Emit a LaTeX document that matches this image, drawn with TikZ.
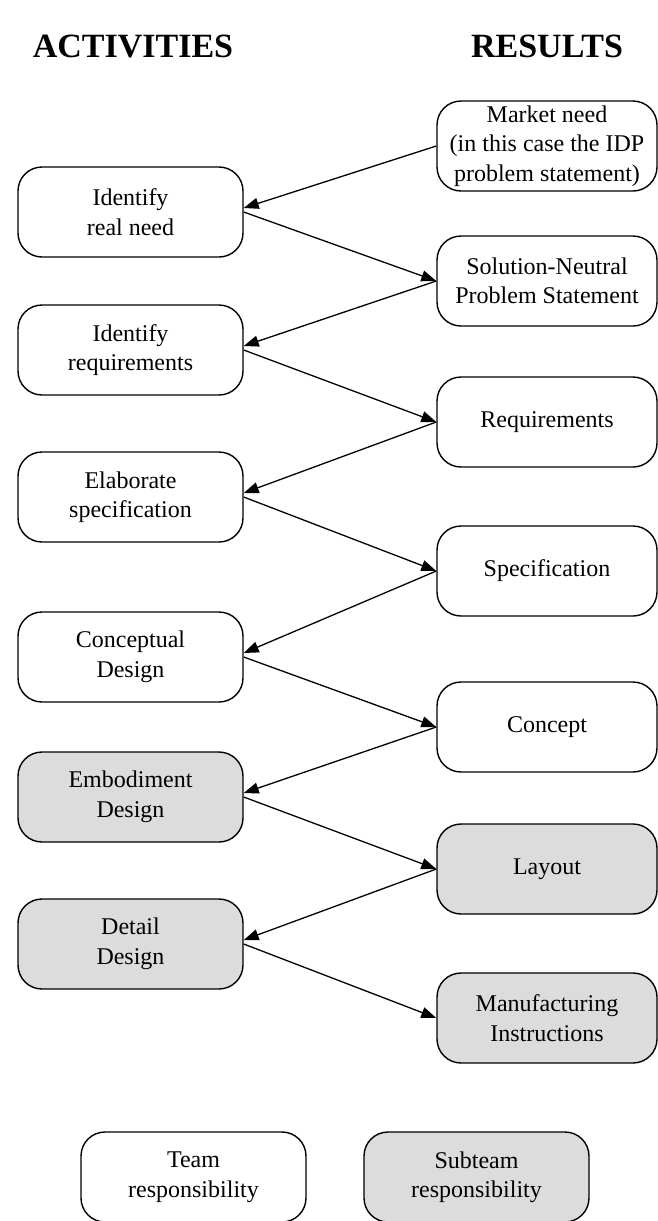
\documentclass[tikz,border=0pt]{standalone}
\usepackage{fontspec}
\setmainfont{Liberation Serif}
\usetikzlibrary{arrows.meta}

\definecolor{subgray}{RGB}{220,220,220}

\tikzset{
  box/.style={draw, line width=1.4pt, rounded corners=24pt, minimum height=90pt,
    align=center, font=\fontsize{24}{29.5}\selectfont, inner sep=2pt},
  actbox/.style={box, minimum width=225pt},
  resbox/.style={box, minimum width=220pt},
  sub/.style={fill=subgray},
  head/.style={font=\fontsize{34}{38}\selectfont\bfseries, anchor=base},
  arr/.style={line width=1.3pt, -{Triangle[length=15pt,width=11pt]}}
}

\begin{document}
\begin{tikzpicture}[x=1pt,y=-1pt]
  \useasboundingbox (0,0) rectangle (658,1221);
  % headings
  \node[head] (hact) at (133,57) {ACTIVITIES};
  \node[head] (hres) at (547,57) {RESULTS};
  % activities
  \node[actbox] (act1) at (130.5,212) {Identify\\real need};
  \node[actbox] (act2) at (130.5,350) {Identify\\requirements};
  \node[actbox] (act3) at (130.5,497) {Elaborate\\specification};
  \node[actbox] (act4) at (130.5,657) {Conceptual\\Design};
  \node[actbox,sub] (act5) at (130.5,797) {Embodiment\\Design};
  \node[actbox,sub] (act6) at (130.5,944) {Detail\\Design};
  % results
  \node[resbox] (res1) at (547,146) {Market need\\(in this case the IDP\\problem statement)};
  \node[resbox] (res2) at (547,281) {Solution-Neutral\\Problem Statement};
  \node[resbox] (res3) at (547,422) {Requirements};
  \node[resbox] (res4) at (547,571) {Specification};
  \node[resbox] (res5) at (547,727) {Concept};
  \node[resbox,sub] (res6) at (547,869) {Layout};
  \node[resbox,sub] (res7) at (547,1018) {Manufacturing\\Instructions};
  % arrows
  \foreach \i in {1,...,6} \draw[arr] (res\i.west) -- ([yshift=4pt]act\i.east);
  \foreach \i/\j in {1/2,2/3,3/4,4/5,5/6,6/7} \draw[arr] (act\i.east) -- (res\j.west);
  % legend
  \node[actbox] (team) at (193.5,1177) {Team\\responsibility};
  \node[actbox,sub] (subteam) at (476.5,1177) {Subteam\\responsibility};
\end{tikzpicture}
\end{document}
